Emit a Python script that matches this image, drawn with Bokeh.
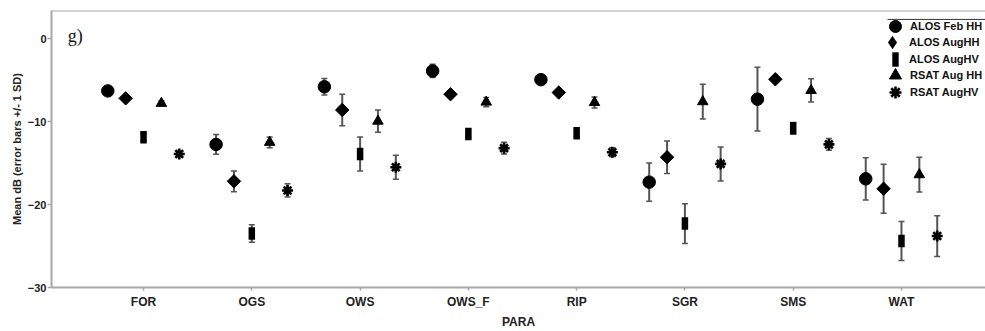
import math
from bokeh.plotting import figure
from bokeh.models import (ColumnDataSource, Whisker, TeeHead, FixedTicker, Span,
                          Legend, LegendItem, Label, Range1d)
from bokeh.embed import file_html
from bokeh.resources import INLINE

# ---- data ----
categories = ["FOR", "OGS", "OWS", "OWS_F", "RIP", "SGR", "SMS", "WAT"]
series_names = ["ALOS Feb HH", "ALOS AugHH", "ALOS AugHV", "RSAT Aug HH", "RSAT AugHV"]

alos_feb_hh = [-6.3, -12.75, -5.8, -3.9, -4.95, -17.3, -7.3, -16.9]
alos_feb_hh_sd = [0.3, 1.2, 1.0, 0.8, 0.3, 2.3, 3.85, 2.55]
alos_aug_hh = [-7.2, -17.2, -8.6, -6.7, -6.5, -14.3, -4.9, -18.1]
alos_aug_hh_sd = [0.3, 1.25, 1.9, 0.3, 0.3, 1.95, 0.3, 2.95]
alos_aug_hv = [-11.9, -23.5, -13.9, -11.5, -11.4, -22.3, -10.8, -24.4]
alos_aug_hv_sd = [0.4, 1.05, 2.05, 0.4, 0.4, 2.4, 0.7, 2.35]
rsat_aug_hh = [-7.8, -12.5, -9.95, -7.65, -7.7, -7.6, -6.25, -16.4]
rsat_aug_hh_sd = [0.3, 0.65, 1.35, 0.55, 0.65, 2.1, 1.4, 2.1]
rsat_aug_hv = [-13.9, -18.3, -15.5, -13.2, -13.7, -15.1, -12.75, -23.8]
rsat_aug_hv_sd = [0.3, 0.8, 1.45, 0.7, 0.55, 2.05, 0.7, 2.45]

y_ticks = [0, -10, -20, -30]

means = [alos_feb_hh, alos_aug_hh, alos_aug_hv, rsat_aug_hh, rsat_aug_hv]
sds = [alos_feb_hh_sd, alos_aug_hh_sd, alos_aug_hv_sd, rsat_aug_hh_sd, rsat_aug_hv_sd]

# ---- layout / style ----
W, H = 985, 331
FL, FT, FB = 51, 10, 289          # frame left / top / bottom (px)
X_START, X_END = 0.150, 8.776
Y_START, Y_END = -30, 3.39
DODGE = 0.165
AX = "#a8a8a8"
FONT = "Liberation Sans"

p = figure(width=W, height=H, output_backend="svg", toolbar_location=None,
           x_range=Range1d(X_START, X_END), y_range=Range1d(Y_START, Y_END),
           min_border_left=FL, min_border_right=0, min_border_top=FT,
           min_border_bottom=H - FB)
p.outline_line_color = None
p.xgrid.visible = False
p.ygrid.visible = False
p.background_fill_color = "white"

styles = [
    dict(marker="circle", size=12.5, angle=0.0, fill_color="black", line_color="black", line_width=1),
    dict(marker="square", size=9.5, angle=math.pi / 4, fill_color="black", line_color="black", line_width=1),
    dict(marker="dash", size=12.5, angle=math.pi / 2, fill_color="black", line_color="black", line_width=6.5),
    dict(marker="triangle", size=10.5, angle=0.0, fill_color="black", line_color="black", line_width=1),
    dict(marker="asterisk", size=11, angle=0.0, fill_color="black", line_color="black", line_width=2.6),
]

renderers = []
sources = []
for k, (m, s) in enumerate(zip(means, sds)):
    xs = [i + 1 + (k - 2) * DODGE for i in range(len(categories))]
    src = ColumnDataSource(dict(x=xs, y=m,
                                lo=[a - b for a, b in zip(m, s)],
                                hi=[a + b for a, b in zip(m, s)]))
    w = Whisker(base="x", lower="lo", upper="hi", source=src, dimension="height",
                line_color="#555555", line_width=2,
                upper_head=TeeHead(size=6, line_color="#555555", line_width=1.5),
                lower_head=TeeHead(size=6, line_color="#555555", line_width=1.5))
    p.add_layout(w)
    r = p.scatter("x", "y", source=src, **styles[k])
    renderers.append(r)
    sources.append(src)

# legend proxies (zero-size on the plot) for the two markers whose rotation
# the legend does not draw
diamond_proxy = p.scatter("x", "y", source=sources[1], marker="diamond", size=0,
                          fill_color="black", line_color=None)
bar_proxy = p.quad(left="x", right="x", top="y", bottom="y", source=sources[2],
                   fill_color="black", line_color=None)
legend_renderers = [renderers[0], diamond_proxy, bar_proxy, renderers[3], renderers[4]]

# axes
p.xaxis.ticker = FixedTicker(ticks=list(range(1, len(categories) + 1)))
p.xaxis.major_label_overrides = {i + 1: c for i, c in enumerate(categories)}
p.yaxis.ticker = FixedTicker(ticks=y_ticks)
for ax in (p.xaxis[0], p.yaxis[0]):
    ax.axis_line_color = AX
    ax.axis_line_width = 2
    ax.major_tick_line_color = AX
    ax.major_tick_line_width = 1.5
    ax.major_tick_in = 0
    ax.minor_tick_line_color = None
    ax.major_label_text_font = FONT
    ax.major_label_text_font_style = "bold"
    ax.major_label_text_color = "#222222"
    ax.axis_label_text_font = FONT
    ax.axis_label_text_font_style = "bold"
    ax.axis_label_text_color = "#222222"
p.xaxis.major_label_text_font_size = "12px"
p.yaxis.major_label_text_font_size = "11px"
p.xaxis.axis_label_text_font_size = "12px"
p.yaxis.axis_label_text_font_size = "11px"
p.xaxis.major_tick_out = 3
p.yaxis.major_tick_out = 4
p.xaxis.major_label_standoff = 4
p.yaxis.major_label_standoff = 1
p.xaxis.axis_label = "PARA"
p.yaxis.axis_label = "Mean dB (error bars +/- 1 SD)"
p.xaxis.axis_label_standoff = 3
p.yaxis.axis_label_standoff = 2

# top frame line
p.add_layout(Span(location=Y_END, dimension="width", line_color=AX, line_width=2))

# panel tag
p.add_layout(Label(x=0.30, y=0.35, text="g)", text_font="Liberation Serif",
                   text_font_size="18px", text_baseline="alphabetic", text_color="#111111"))

# legend: one single-row legend per series, stacked ~17 px apart
row_centers = [28, 44, 61, 77, 94]   # px from top of page
TEXT_X = 909                          # px, legend text start
# (glyph box width, height, marker centre x)
glyph_boxes = [(30, 30, 895), (34, 34, 892), (8, 18, 895), (30, 30, 895), (30, 30, 895)]
for name, r, c, (gw, gh, mx) in zip(series_names, legend_renderers, row_centers, glyph_boxes):
    left = mx - gw // 2
    lg = Legend(items=[LegendItem(label=name, renderers=[r])],
                location=(left - FL, FB - (c + gh // 2)), orientation="vertical",
                glyph_width=gw, glyph_height=gh, label_height=gh, spacing=0,
                label_standoff=max(0, TEXT_X - (left + gw)),
                padding=0, margin=0, border_line_color=None, background_fill_alpha=0,
                label_text_font=FONT, label_text_font_style="bold",
                label_text_font_size="11px", label_text_color="#111111")
    p.add_layout(lg)

# thin line above legend
fy = (19 - FT) / float(FB - FT)
ly = Y_END - fy * (Y_END - Y_START)
lx0 = X_START + (887 - FL) / float(W - FL) * (X_END - X_START)
p.segment(x0=[lx0], y0=[ly], x1=[X_END], y1=[ly], line_color="#333333", line_width=1)

open("out.html", "w").write(file_html(p, INLINE))
